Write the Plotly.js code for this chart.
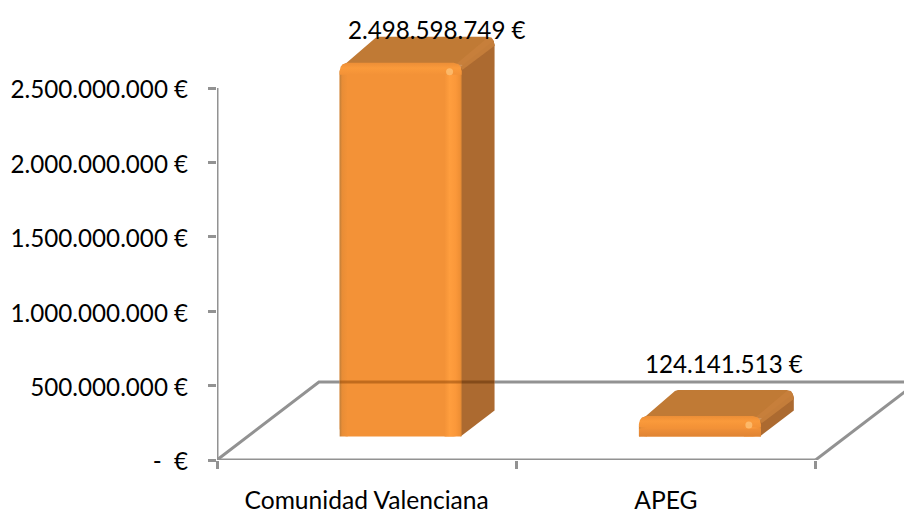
<!DOCTYPE html>
<html><head><meta charset="utf-8">
<script src="https://cdn.plot.ly/plotly-3.0.1.min.js"></script>
<style>html,body{margin:0;padding:0;background:#fff}</style></head>
<body><div id="chart" style="width:904px;height:511px"></div>
<script>
const categories = ["Comunidad Valenciana", "APEG"];
const values = [2498598749, 124141513];
const valueLabels = ["2.498.598.749 €", "124.141.513 €"];
const yTickVals = [0, 500000000, 1000000000, 1500000000, 2000000000, 2500000000];
const yTickText = ["-  €", "500.000.000 €", "1.000.000.000 €", "1.500.000.000 €", "2.000.000.000 €", "2.500.000.000 €"];
const catTicks = [0, 1, 2];

// scale: pixels per data unit, used to express the fake 3D depth
const PXX = 299.5, PXY = 372 / 2.5e9;
const L = 216.5, B = 51, W = 904, H = 511;
const px = p => p / PXX, py = p => p / PXY;
const xMax = (W - L) / PXX, yMax = (H - B) / PXY;
const barW = px(122), frontX = px(34), frontY = py(23.5), backX = px(33), backY = py(26);
const floorX = px(102), floorY = py(78);
const GREY = "#929292", LW = 3, FS = 24.2, FONT = "Lato, sans-serif";

const traces = [];
const line = (xs, ys, color, width, clip) => traces.push({type:"scatter", mode:"lines", x:xs, y:ys, line:{color, width}, cliponaxis: !!clip, hoverinfo:"skip", showlegend:false});
const poly = (xs, ys, fill, grad) => {
  const t = {type:"scatter", mode:"none", x:xs.concat(xs[0]), y:ys.concat(ys[0]), fill:"toself", fillcolor:fill, hoverinfo:"skip", showlegend:false, cliponaxis:false};
  if (grad) t.fillgradient = grad;
  traces.push(t);
};
const grad = (type, stops) => ({type, colorscale: stops});

// front faces, real bars
traces.push({type:"bar", x:categories.map((_,i)=>i+0.5+frontX), y:values, base:frontY, width:barW,
  marker:{color:"#F39237", line:{width:0}, cornerradius:8}, hoverinfo:"skip", showlegend:false});

const bar0L = 0.5 + frontX - barW/2, bar0R = bar0L + barW;

// floor
line([0, floorX, bar0L], [0, floorY, floorY], GREY, LW, true);
line([bar0R + backX, xMax], [floorY, floorY], GREY, LW, true);
line([2, 2 + floorX], [0, floorY], GREY, LW, true);

values.forEach((v, i) => {
  const c = i + 0.5 + frontX, l = c - barW/2, r = c + barW/2;
  const b = frontY, t = v + frontY + py(2);
  const h = (t - b) * PXY;
  const tb = t + backY;
  // top face, with rounded outer corners
  poly([l + px(1), l + px(3), l + px(7), l + backX + px(3), l + backX + px(6), r + backX - px(7), r + backX - px(3), r + backX - px(1), r + backX, r + px(6), r],
       [t - py(5), t - py(2), t, tb - py(1), tb, tb, tb - py(1), tb - py(4), tb - py(9), t - py(5), t - py(2)], "#C07A35");
  // side face
  poly([r - px(1), r + backX, r + backX, r + backX - px(1), r - px(1)],
       [b, b + backY, tb - py(8), tb - py(4), t - py(4)], "#AC6A30");
  // soft bevel between top and side
  poly([r - px(5), r + backX - px(7), r + backX - px(3), r + backX - px(1), r + backX, r + px(1)],
       [t - py(1), tb - py(1), tb - py(1), tb - py(4), tb - py(9), t - py(7)], "rgba(200,128,60,0.85)");
  // left edge
  poly([l, l + px(8), l + px(8), l], [b, b, t - py(8), t - py(8)], "#000",
    grad("horizontal", [[0,"#BE7E3A"],[0.3,"#E88D36"],[1,"#F39237"]]));
  // right highlight
  poly([r - px(17), r, r, r - px(17)], [b, b, t - py(8), t - py(8)], "#000",
    grad("horizontal", [[0,"#F39237"],[0.3,"#FF9E3E"],[0.65,"#FB983A"],[0.88,"#F09035"],[1,"#E08A34"]]));
  // top bevel with rounded front corners
  const bev = Math.min(12, h * 0.55);
  poly([l, l + px(1), l + px(3), l + px(8), r - px(8), r - px(3), r - px(1), r, r, l],
       [t - py(8), t - py(4), t - py(1.5), t, t, t - py(1.5), t - py(4), t - py(8), t - py(bev), t - py(bev)], "#000",
    grad("vertical", [[0,"#F39237"],[0.55,"#FA9A3B"],[1,"#EC8E36"]]));
  if (h < 40) {
    poly([l, r, r, l], [b, b, b + py(8), b + py(8)], "#000",
      grad("vertical", [[0,"#DF8433"],[1,"#F09038"]]));
  }
  // specular spot
  traces.push({type:"scatter", mode:"markers", x:[r - px(12)], y:[t - py(9)], marker:{size:7, color:"rgba(255,200,125,0.7)", line:{width:0}}, hoverinfo:"skip", showlegend:false, cliponaxis:false});
});

// floor back line showing through the tall bar
line([bar0L, bar0R], [floorY, floorY], "rgba(150,75,10,0.55)", LW, true);
line([bar0R, bar0R + backX], [floorY, floorY], "rgba(100,50,10,0.55)", LW, true);

// axis lines limited to the drawn value range
line([0, 0], [0, yTickVals[yTickVals.length-1]], GREY, LW);
line([0, catTicks[catTicks.length-1]], [0, 0], GREY, LW);

const annotations = values.map((v, i) => ({
  x: i + 0.5, y: v, xref:"x", yref:"y", text: valueLabels[i], showarrow:false,
  xanchor:"center", yanchor:"middle",
  xshift: [70, 58][i], yshift: [59, 78.5][i],
  font:{family:FONT, size:FS, color:"#000"}
}));

Plotly.newPlot("chart", traces, {
  width:W, height:H, autosize:false,
  margin:{l:L, r:0, t:0, b:B, pad:0},
  paper_bgcolor:"#fff", plot_bgcolor:"#fff",
  barmode:"overlay", showlegend:false, hovermode:false,
  font:{family:FONT, size:FS, color:"#000"},
  xaxis:{range:[0,xMax], showgrid:false, zeroline:false, showline:false,
    tickmode:"array", tickvals:categories.map((_,i)=>i+0.5), ticktext:categories,
    ticks:"outside", ticklen:18, tickcolor:"rgba(0,0,0,0)",
    minor:{tickmode:"array", tickvals:catTicks, ticks:"outside", ticklen:8, tickwidth:LW, tickcolor:GREY, showgrid:false},
    tickfont:{family:FONT, size:24.6, color:"#000"}},
  yaxis:{range:[0,yMax], showgrid:false, zeroline:false, showline:false,
    tickmode:"array", tickvals:yTickVals, ticktext:yTickText,
    ticks:"outside", ticklen:8, tickwidth:LW, tickcolor:GREY, ticklabelstandoff:15, ticklabelshift:2,
    tickfont:{family:FONT, size:FS, color:"#000"}},
  annotations
}, {displayModeBar:false, staticPlot:true});
</script></body></html>
